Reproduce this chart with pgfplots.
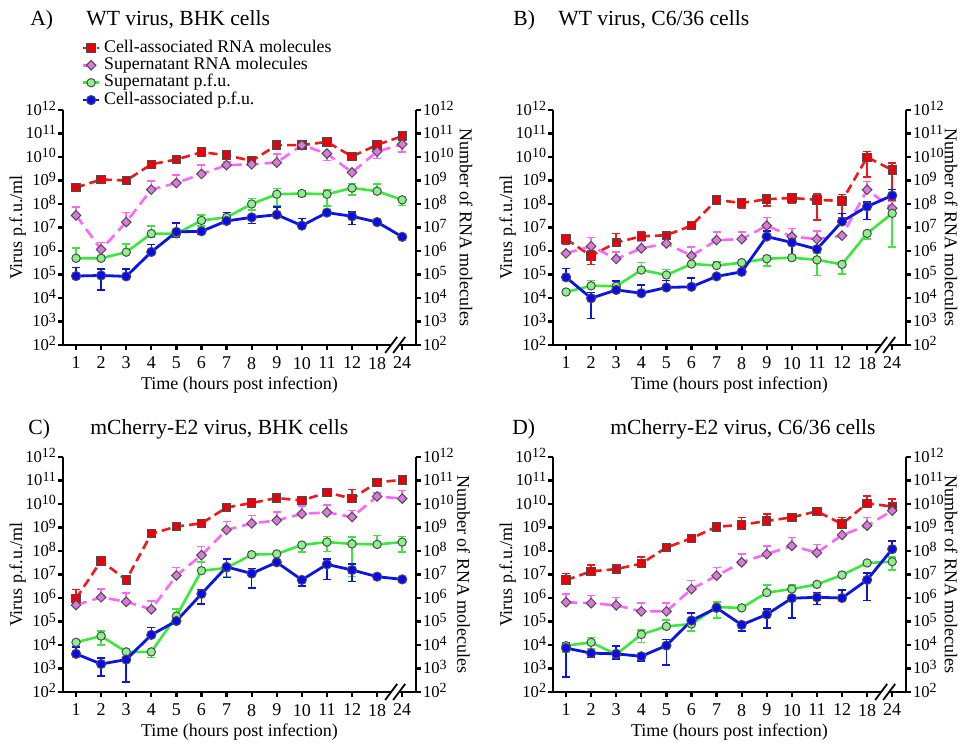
\documentclass[border=0pt]{standalone}
\usepackage{fontspec}
\setmainfont{Liberation Serif}
\usepackage{pgfplots}
\usepackage{pgfplotstable}
\pgfplotsset{compat=1.18}

\definecolor{cred}{HTML}{F01818}
\definecolor{credfill}{HTML}{E8000B}
\definecolor{cmag}{HTML}{FF66FF}
\definecolor{cmagfill}{HTML}{DC78DC}
\definecolor{cgrn}{HTML}{3CE83C}
\definecolor{cgrnfill}{HTML}{8CF08C}
\definecolor{cblu}{HTML}{0A14E6}
\definecolor{cblufill}{HTML}{0A0AF0}

% columns: x, then value/upper/lower for each series
% r = cell-associated RNA, s = supernatant RNA, g = supernatant pfu, b = cell-associated pfu
\pgfplotstableread{
x r rh rl s sh sl g gh gl b bh bl
0 5e8 5e8 5e8 3.3e7 7.6e7 3.3e7 4.9e5 1.35e6 4.9e5 8.6e4 2e5 8.6e4
1 1.1e9 1.1e9 1.1e9 1.15e6 2.3e6 1.15e6 4.9e5 4.9e5 4.9e5 9.1e4 1.7e5 2.2e4
2 1.0e9 1.0e9 1.0e9 1.7e7 4.3e7 1.7e7 8.9e5 2e6 8.9e5 8.3e4 1.7e5 8.3e4
3 4.9e9 4.9e9 4.9e9 4.1e8 9.3e8 4.1e8 5.5e6 1.15e7 4e6 9.1e5 1.86e6 9.1e5
4 7.8e9 7.8e9 7.8e9 7.8e8 1.7e9 7.8e8 5.4e6 5.4e6 4e6 6.5e6 1.6e7 4e6
5 1.6e10 1.6e10 1.6e10 1.9e9 4.6e9 1.9e9 2e7 3.4e7 1.15e7 6.9e6 6.9e6 5e6
6 1.2e10 1.2e10 1.2e10 4.5e9 6e9 4.5e9 2.7e7 4.3e7 2.7e7 1.9e7 4.3e7 1.9e7
7 6.8e9 1.0e10 6.8e9 4.9e9 1e10 4.9e9 1e8 1.74e8 5.5e7 2.7e7 2.7e7 1.5e7
8 3.2e10 3.2e10 3.2e10 5.8e9 1.35e10 5.8e9 2.6e8 4.5e8 8.1e7 3.5e7 7.4e7 3.5e7
9 3.2e10 3.2e10 3.2e10 3.2e10 3.2e10 3.2e10 2.8e8 3.5e8 2.2e8 1.2e7 2.4e7 1.2e7
10 4.4e10 4.4e10 4.4e10 1.4e10 1.4e10 7.2e9 2.6e8 4e8 8.1e7 4.3e7 4.3e7 4.3e7
11 1.05e10 1.05e10 1.05e10 2.2e9 2.2e9 2.2e9 4.8e8 7.4e8 2.4e8 3e7 4.5e7 1.35e7
12 3.3e10 3.3e10 3.3e10 1.7e10 1.7e10 8.5e9 3.5e8 6.9e8 3.5e8 1.7e7 1.7e7 1.7e7
13 7.7e10 7.7e10 7.7e10 3.5e10 3.5e10 1.66e10 1.5e8 1.5e8 8.7e7 4e6 4e6 4e6
}\dataA

\pgfplotstableread{
x r rh rl s sh sl g gh gl b bh bl
0 3.2e6 3.2e6 2e6 7.9e5 7.9e5 7.9e5 1.8e4 1.8e4 1.8e4 7.6e4 1.8e5 7.6e4
1 6.2e5 1e6 2.7e5 1.6e6 3.7e6 1.6e6 3.3e4 5.5e4 3.3e4 9.8e3 1.7e4 1.35e3
2 2.3e6 5.6e6 2.3e6 4.6e5 9.3e5 4.6e5 3.2e4 3.2e4 3.2e4 2.2e4 5.2e4 2.2e4
3 4.2e6 6.6e6 4.2e6 1.3e6 2.5e6 1.3e6 1.55e5 3.2e5 1.55e5 1.6e4 3.5e4 1.6e4
4 4.7e6 4.7e6 4.7e6 2.1e6 2.5e6 2.1e6 9.5e4 1.66e5 9.5e4 2.8e4 5.5e4 2.8e4
5 1.2e7 1.2e7 1.2e7 6.2e5 1.45e6 6.2e5 2.8e5 2.8e5 2.8e5 3e4 6.9e4 3e4
6 1.5e8 1.5e8 1.5e8 2.9e6 6.6e6 2.9e6 2.4e5 3.5e5 2.4e5 8.3e4 8.3e4 8.3e4
7 1.1e8 1.1e8 6.6e7 3.2e6 6.6e6 3.2e6 3.2e5 3.2e5 3.2e5 1.3e5 1.3e5 1.3e5
8 1.6e8 1.6e8 8.1e7 1.2e7 2.7e7 1.2e7 4.7e5 6.5e5 2.3e5 4.1e6 7e6 4.1e6
9 1.8e8 2.5e8 1.07e8 4.1e6 9.1e6 4.1e6 5.2e5 6.5e5 3.9e5 2.3e6 3.5e6 6.2e5
10 1.5e8 2.7e8 2.1e7 3.2e6 7.1e6 3.2e6 4.2e5 7.9e5 9.1e4 1.2e6 1.2e6 1.2e6
11 1.35e8 2.5e8 2.5e7 4.5e6 4.5e6 4.5e6 2.7e5 2.7e5 1.02e5 1.8e7 4e7 1.8e7
12 9.8e9 1.7e10 1.45e9 4e8 8.9e8 4e8 5.6e6 5.6e6 3.2e6 7.8e7 1.2e8 2.2e7
13 2.8e9 5.4e9 1.5e8 6.6e7 1.26e8 6.6e7 4e7 7.8e7 1.45e6 2.3e8 4.2e8 2.3e8
}\dataB

\pgfplotstableread{
x r rh rl s sh sl g gh gl b bh bl
0 9.6e5 2.3e6 9.6e5 5e5 5e5 5e5 1.3e4 1.3e4 1.3e4 4.2e3 8e3 4.2e3
1 3.8e7 3.8e7 3.8e7 1.07e6 2.4e6 1.07e6 2.4e4 3.9e4 9.8e3 1.55e3 2.8e3 4.7e2
2 5.9e6 5.9e6 5.9e6 6.9e5 1.6e6 6.9e5 5.1e3 5.1e3 5.1e3 2.4e3 2.4e3 2.7e2
3 5.4e8 5.4e8 5.4e8 3.3e5 7.6e5 3.3e5 5.1e3 5.1e3 2.9e3 2.7e4 5.6e4 2.7e4
4 1.1e9 1.1e9 1.1e9 9.1e6 1.95e7 9.1e6 1.7e5 3.5e5 1.7e5 1.05e5 1.05e5 1.05e5
5 1.5e9 1.5e9 1.5e9 6.6e7 1.55e8 6.6e7 1.45e7 3.5e7 1.45e7 1.5e6 2.3e6 5.5e5
6 7.1e9 7.1e9 7.1e9 7.9e8 1.8e9 7.9e8 1.9e7 1.9e7 8.1e6 2.1e7 4.6e7 7.6e6
7 1.1e10 1.1e10 1.1e10 1.5e9 3.3e9 1.5e9 7e7 7e7 7e7 1.1e7 1.8e7 2.6e6
8 1.8e10 1.8e10 1.8e10 2e9 4.5e9 2e9 7.5e7 7.5e7 7.5e7 3.3e7 3.3e7 3.3e7
9 1.4e10 1.4e10 1.4e10 3.8e9 8.3e9 3.8e9 1.8e8 1.8e8 9.3e7 5.9e6 5.9e6 3.2e6
10 3.1e10 3.1e10 3.1e10 4.4e9 9e9 4.4e9 2.4e8 4.1e8 9.5e7 2.7e7 4.6e7 6.2e6
11 1.7e10 4.1e10 1.7e10 2.8e9 5.2e9 2.8e9 2e8 3.9e8 8.1e6 1.55e7 2.8e7 5.1e6
12 8.3e10 8.3e10 8.3e10 2.1e10 3e10 2.1e10 1.9e8 4.6e8 1.9e8 8.1e6 8.1e6 8.1e6
13 1.07e11 1.07e11 1.07e11 1.7e10 3.8e10 1.7e10 2.4e8 4.1e8 8.9e7 6.2e6 6.2e6 6.2e6
}\dataC

\pgfplotstableread{
x r rh rl s sh sl g gh gl b bh bl
0 5.8e6 1.1e7 5.8e6 6.6e5 1.5e6 6.6e5 9.3e3 1.3e4 5e3 7.4e3 1.3e4 4.4e2
1 1.36e7 2.6e7 1.36e7 6e5 1.26e6 6e5 1.3e4 2.1e4 7e3 4.5e3 4.5e3 2.9e3
2 1.7e7 1.7e7 1.7e7 4.9e5 1.07e6 4.9e5 4e3 4e3 2.6e3 4.2e3 8.9e3 2.6e3
3 2.9e7 5.6e7 2.9e7 2.7e5 6e5 2.7e5 2.8e4 4.3e4 1.3e4 3.3e3 3.3e3 2.1e3
4 1.4e8 1.4e8 1.4e8 2.7e5 6e5 2.7e5 6.2e4 1.17e5 6.2e4 9.5e3 1.7e4 1.45e3
5 3.5e8 3.5e8 3.5e8 2.4e6 5.5e6 2.4e6 7.8e4 7.8e4 4e4 1.1e5 2.3e5 1.1e5
6 1.07e9 1.07e9 1.07e9 8.9e6 2e7 8.9e6 4.1e5 6.6e5 1.4e5 3.8e5 3.8e5 3.8e5
7 1.3e9 2.7e9 1.3e9 3.3e7 7.4e7 3.3e7 3.8e5 3.8e5 3.8e5 7.2e4 7.2e4 3.9e4
8 1.9e9 3.7e9 1.9e9 7.4e7 1.6e8 7.4e7 1.7e6 3.5e6 1.7e6 2e5 3.5e5 5.4e4
9 2.7e9 2.7e9 2.7e9 1.65e8 3.8e8 1.65e8 2.4e6 3.5e6 2.4e6 9.8e5 9.8e5 1.4e5
10 4.9e9 4.9e9 4.9e9 8.4e7 1.86e8 8.4e7 3.8e6 3.8e6 3.8e6 1.07e6 1.7e6 5.3e5
11 1.4e9 2.7e9 1.4e9 4.8e8 4.8e8 4.8e8 9.5e6 9.5e6 9.5e6 1e6 2.2e6 1e6
12 1.07e10 2.2e10 1.07e10 1.2e9 2.7e9 1.2e9 3.1e7 3.1e7 3.1e7 5.9e6 1.15e7 7.8e5
13 7.8e9 1.6e10 7.8e9 5.2e9 5.2e9 5.2e9 3.5e7 5.7e7 1.55e7 1.2e8 2.7e8 1.2e8
}\dataD

\newcommand{\tickfont}{\fontsize{9}{10}\selectfont}
\newcommand{\titlefont}{\fontsize{10.8}{12}\selectfont}
% power-of-ten tick label with a large raised exponent
\newcommand{\tk}[1]{10\raisebox{2.4pt}[0pt][0pt]{\fontsize{7}{7}\selectfont #1}}

% options shared by every axis, set directly
\pgfplotsset{
  scale only axis, width=176.5pt, height=117.5pt, anchor=south west,
  xmin=-0.52, xmax=13.55, ymin=1e2, ymax=1e12,
  xtick={0,...,13}, xticklabels={1,2,3,4,5,6,7,8,9,10,11,12,18,24},
  ytick={1e2,1e3,1e4,1e5,1e6,1e7,1e8,1e9,1e10,1e11,1e12},
  yticklabels={\tk{2},\tk{3},\tk{4},\tk{5},\tk{6},\tk{7},\tk{8},\tk{9},\tk{10},\tk{11},\tk{12}},
  yminorticks=false,
  major tick length=2.5pt,
  tick style={black, line width=1.1pt},
  axis line style={line width=1.3pt},
  tick label style={font=\tickfont},
  yticklabel style={font=\fontsize{8.3}{9}\selectfont, inner sep=0.8pt},
  label style={font=\tickfont},
  clip=false,
  legend image code/.code={\draw[mark repeat=2, mark phase=2, #1] plot coordinates {(0pt,0pt) (4pt,0pt) (8pt,0pt)};},
}

\tikzset{
  rser/.style={color=cred, line width=1.3pt, dash pattern=on 4.5pt off 2.5pt,
    mark=square*, mark size=2.1pt,
    mark options={solid, fill=credfill, draw=black!70, line width=0.5pt}},
  sser/.style={color=cmag, line width=1.3pt, dash pattern=on 5.5pt off 3pt,
    mark=square*, mark size=1.7pt,
    mark options={solid, rotate=45, fill=cmagfill, draw=black!70, line width=0.5pt}},
  gser/.style={color=cgrn, line width=1.3pt,
    mark=*, mark size=2.1pt,
    mark options={solid, fill=cgrnfill, draw=black!70, line width=0.5pt}},
  bser/.style={color=cblu, line width=1.4pt,
    mark=*, mark size=2.3pt,
    mark options={solid, fill=cblufill, draw=black!70, line width=0.5pt}},
}

\newcommand{\seriesplots}[1]{%
  \addplot[rser, error bars/.cd, y dir=both, y explicit, error bar style={solid, line width=0.8pt}, error mark options={rotate=90, mark size=2pt, line width=0.8pt, solid}]
    table[x=x, y=r, y error plus expr={\thisrow{rh}-\thisrow{r}}, y error minus expr={\thisrow{r}-\thisrow{rl}}] {#1};
  \addplot[sser, error bars/.cd, y dir=both, y explicit, error bar style={solid, line width=0.8pt}, error mark options={rotate=90, mark size=2pt, line width=0.8pt, solid}]
    table[x=x, y=s, y error plus expr={\thisrow{sh}-\thisrow{s}}, y error minus expr={\thisrow{s}-\thisrow{sl}}] {#1};
  \addplot[gser, error bars/.cd, y dir=both, y explicit, error bar style={solid, line width=0.8pt}, error mark options={rotate=90, mark size=2pt, line width=0.8pt, solid}]
    table[x=x, y=g, y error plus expr={\thisrow{gh}-\thisrow{g}}, y error minus expr={\thisrow{g}-\thisrow{gl}}] {#1};
  \addplot[bser, error bars/.cd, y dir=both, y explicit, error bar style={solid, line width=0.8pt}, error mark options={rotate=90, mark size=2pt, line width=0.8pt, solid}]
    table[x=x, y=b, y error plus expr={\thisrow{bh}-\thisrow{b}}, y error minus expr={\thisrow{b}-\thisrow{bl}}] {#1};
}

% axis with the left scale, bottom axis and labels; #1 extra options, #2 position
\newcommand{\leftaxis}[2][]{%
  \begin{semilogyaxis}[axis x line*=bottom, axis y line*=left, tick align=outside,
    xlabel={Time (hours post infection)},
    xlabel style={at={(axis description cs:0.5,-0.17)}, anchor=center},
    ylabel={Virus p.f.u./ml},
    ylabel style={at={(axis description cs:-0.128,0.5)}, anchor=center},
    at={#2}, #1]}
% overlaid axis with the right scale; #1 label offset, #2 position
\newcommand{\rightaxis}[2]{%
  \begin{semilogyaxis}[axis x line=none, axis y line*=right, tick align=outside,
    ylabel={Number of RNA molecules},
    ylabel style={at={(axis description cs:#1,0.5)}, anchor=center, rotate=180},
    at={#2}]}

% axis break mark between 18 and 24
\newcommand{\axisbreak}{%
  \fill[white] ([xshift=-2pt,yshift=-1.2pt]axis cs:12.72,100) rectangle ([xshift=2pt,yshift=1.2pt]axis cs:12.72,100);
  \draw[line width=0.9pt] ([xshift=-5pt,yshift=-4pt]axis cs:12.72,100) -- ++(6pt,8pt);
  \draw[line width=0.9pt] ([xshift=-1pt,yshift=-4pt]axis cs:12.72,100) -- ++(6pt,8pt);
}

\begin{document}
\begin{tikzpicture}
\useasboundingbox (0pt,0pt) rectangle (480pt,-371.5pt);

% ---- A
\leftaxis[legend style={at={(axis description cs:0.052,1.303)}, anchor=north west,
    draw=none, fill=none, font=\fontsize{8.9}{9}\selectfont, row sep=0pt, inner sep=0pt,
    nodes={inner sep=0.3pt, text height=6.2pt, text depth=1.9pt},
    /tikz/every odd column/.append style={column sep=1.5pt},
    cells={anchor=west}}]{(31.5pt,-172.5pt)}
\seriesplots{\dataA}
\legend{Cell-associated RNA molecules, Supernatant RNA molecules, Supernatant p.f.u., Cell-associated p.f.u.}
\end{semilogyaxis}
\rightaxis{1.142}{(31.5pt,-172.5pt)}
\axisbreak
\end{semilogyaxis}

% ---- B
\leftaxis{(276.5pt,-172.5pt)}
\seriesplots{\dataB}
\end{semilogyaxis}
\rightaxis{1.128}{(276.5pt,-172.5pt)}
\axisbreak
\end{semilogyaxis}

% ---- C
\leftaxis{(31.5pt,-346pt)}
\seriesplots{\dataC}
\end{semilogyaxis}
\rightaxis{1.135}{(31.5pt,-346pt)}
\axisbreak
\end{semilogyaxis}

% ---- D
\leftaxis{(276.5pt,-346pt)}
\seriesplots{\dataD}
\end{semilogyaxis}
\rightaxis{1.128}{(276.5pt,-346pt)}
\axisbreak
\end{semilogyaxis}

% panel titles
\node[anchor=base west, inner sep=0pt, font=\titlefont] at (15pt,-13pt) {A)};
\node[anchor=base west, inner sep=0pt, font=\titlefont] at (43pt,-13pt) {WT virus, BHK cells};
\node[anchor=base west, inner sep=0pt, font=\titlefont] at (256.5pt,-13pt) {B)};
\node[anchor=base west, inner sep=0pt, font=\titlefont] at (279pt,-13pt) {WT virus, C6/36 cells};
\node[anchor=base west, inner sep=0pt, font=\titlefont] at (14pt,-217.5pt) {C)};
\node[anchor=base west, inner sep=0pt, font=\titlefont] at (45pt,-217.5pt) {mCherry-E2 virus, BHK cells};
\node[anchor=base west, inner sep=0pt, font=\titlefont] at (256pt,-217.5pt) {D)};
\node[anchor=base west, inner sep=0pt, font=\titlefont] at (305pt,-217.5pt) {mCherry-E2 virus, C6/36 cells};
\end{tikzpicture}
\end{document}
